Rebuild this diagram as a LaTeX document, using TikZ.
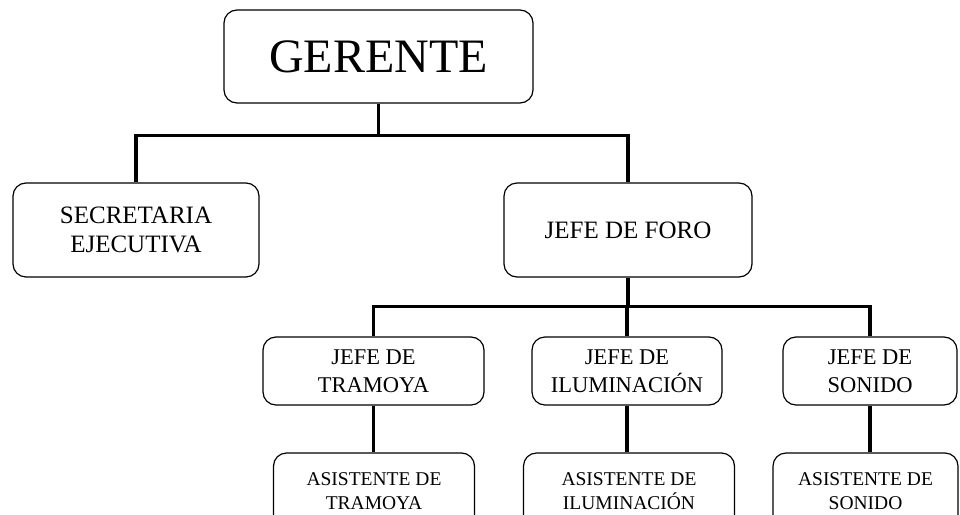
\documentclass[tikz,border=0pt]{standalone}
\usepackage{fontspec}
\setmainfont{Liberation Serif}
\begin{document}
\begin{tikzpicture}[x=1pt,y=-1pt,
  box/.style={draw=black, line width=1.2pt, rounded corners=13pt, align=center, inner sep=0pt, fill=white},
  conn/.style={draw=black, line width=3.6pt},
  fbig/.style={font=\fontsize{48}{52}\selectfont},
  fmid/.style={font=\fontsize{25}{29}\selectfont},
  fsub/.style={font=\fontsize{22.5}{28}\selectfont},
  fsmall/.style={font=\fontsize{19.5}{24}\selectfont}]
\useasboundingbox (0,0) rectangle (960,514);
\clip (0,0) rectangle (960,514);
\fill[white] (0,0) rectangle (960,514);
% nodes
\node[box, fbig, minimum width=309pt, minimum height=93pt] (ger) at (378.5,56.5) {GERENTE};
\node[box, fmid, minimum width=246pt, minimum height=94pt] (sec) at (136,230) {SECRETARIA\\EJECUTIVA};
\node[box, fmid, minimum width=248pt, minimum height=94pt] (foro) at (628,230) {JEFE DE FORO};
\node[box, fsub, minimum width=221pt, minimum height=68pt] (tra) at (373.5,371) {JEFE DE\\TRAMOYA};
\node[box, fsub, minimum width=190pt, minimum height=68pt] (ilu) at (627,371) {JEFE DE\\ILUMINACIÓN};
\node[box, fsub, minimum width=174pt, minimum height=68pt] (son) at (870,371) {JEFE DE\\SONIDO};
\node[box, fsmall, minimum width=201pt, minimum height=76pt] (atra) at (374,491) {ASISTENTE DE\\TRAMOYA};
\node[box, fsmall, minimum width=211pt, minimum height=76pt] (ailu) at (629,491) {ASISTENTE DE\\ILUMINACIÓN};
\node[box, fsmall, minimum width=185pt, minimum height=76pt] (ason) at (865.5,491) {ASISTENTE DE\\SONIDO};
% connectors
\draw[conn] (ger.south) -- ++(0,32) coordinate (g1);
\draw[conn] (g1) -| (sec.north);
\draw[conn] (g1) -| (foro.north);
\draw[conn] (foro.south) -- ++(0,29) coordinate (f1);
\draw[conn] (f1) -| (tra.north);
\draw[conn] (f1) -| (ilu.north);
\draw[conn] (f1) -| (son.north);
\draw[conn] (tra.south) -- (tra.south |- atra.north);
\draw[conn] (ilu.south) -- (ilu.south |- ailu.north);
\draw[conn] (son.south) -- (son.south |- ason.north);
\end{tikzpicture}
\end{document}
